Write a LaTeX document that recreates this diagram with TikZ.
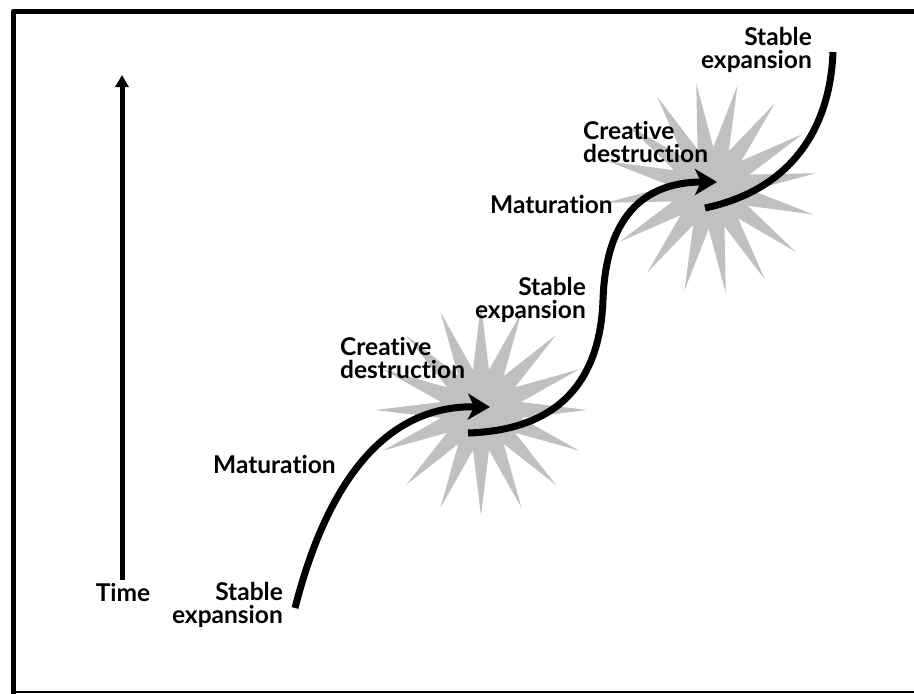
\documentclass[tikz,border=0pt]{standalone}
\usepackage{fontspec}
\setmainfont{Lato}[RawFeature=-liga]
\definecolor{burstgray}{HTML}{C0C0C0}
\definecolor{inkblack}{HTML}{000000}
\usetikzlibrary{arrows.meta,shapes.geometric}

\begin{document}
\begin{tikzpicture}[
  x=1pt,
  y=-1pt,
  line join=round,
  frameedge/.style={draw=inkblack,line width=5pt},
  burst/.style={star,star points=16,star point ratio=2.6,minimum size=212pt,inner sep=0pt,fill=burstgray,draw=none},
  trend/.style={draw=inkblack,line width=7pt},
  trendhead/.style={trend,-{Stealth[length=22pt,width=26pt,inset=6pt]}},
  timeaxis/.style={draw=inkblack,line width=5pt,-{Triangle[length=12pt,width=13pt]}},
  labeltext/.style={font=\fontsize{24.5}{23}\selectfont\bfseries,text=inkblack,inner sep=0pt}
]
  \useasboundingbox (0,0) rectangle (914,694);

  % frame of the figure
  \draw[frameedge] (13,694) -- (13,11.5) -- (914,11.5);
  \draw[draw=inkblack,line width=2pt] (13,692) -- (914,692);

  % bursts of creative destruction
  \node[burst] (B1) at (481,410) {};
  \node[burst,rotate=8] (B2) at (711,188) {};

  % time axis
  \coordinate (T0) at (122,580);
  \coordinate (T1) at (122,75);
  \draw[timeaxis] (T0) -- (T1);

  % trend curve, three pieces
  \coordinate (C0) at (295,608);
  \coordinate (C1) at (490,407);
  \coordinate (C2) at (468,433);
  \coordinate (C3) at (603,300);
  \coordinate (C4) at (717,182);
  \coordinate (C5) at (705,208);
  \coordinate (C6) at (833,52);

  \draw[trendhead] (C0) .. controls (320,510) and (370,405) .. (C1);
  \draw[trendhead] (C2) .. controls (560,430) and (600,380) .. (C3)
    .. controls (606,210) and (650,182) .. (C4);
  \draw[trend] (C5) .. controls (790,190) and (830,130) .. (C6);

  % labels (base = last line)
  \node[labeltext,anchor=base] (time) at (123,601) {Time};
  \node[labeltext,anchor=base east,align=right] (stable1) at (283,623) {Stable\\expansion};
  \node[labeltext,anchor=base west] (matur1) at (213,473) {Maturation};
  \node[labeltext,anchor=base west,align=left] (creat1) at (340,378) {Creative\\destruction};
  \node[labeltext,anchor=base east,align=right] (stable2) at (586,318) {Stable\\expansion};
  \node[labeltext,anchor=base west] (matur2) at (490,213) {Maturation};
  \node[labeltext,anchor=base west,align=left] (creat2) at (583,162) {Creative\\destruction};
  \node[labeltext,anchor=base east,align=right] (stable3) at (812,68) {Stable\\expansion};
\end{tikzpicture}
\end{document}
